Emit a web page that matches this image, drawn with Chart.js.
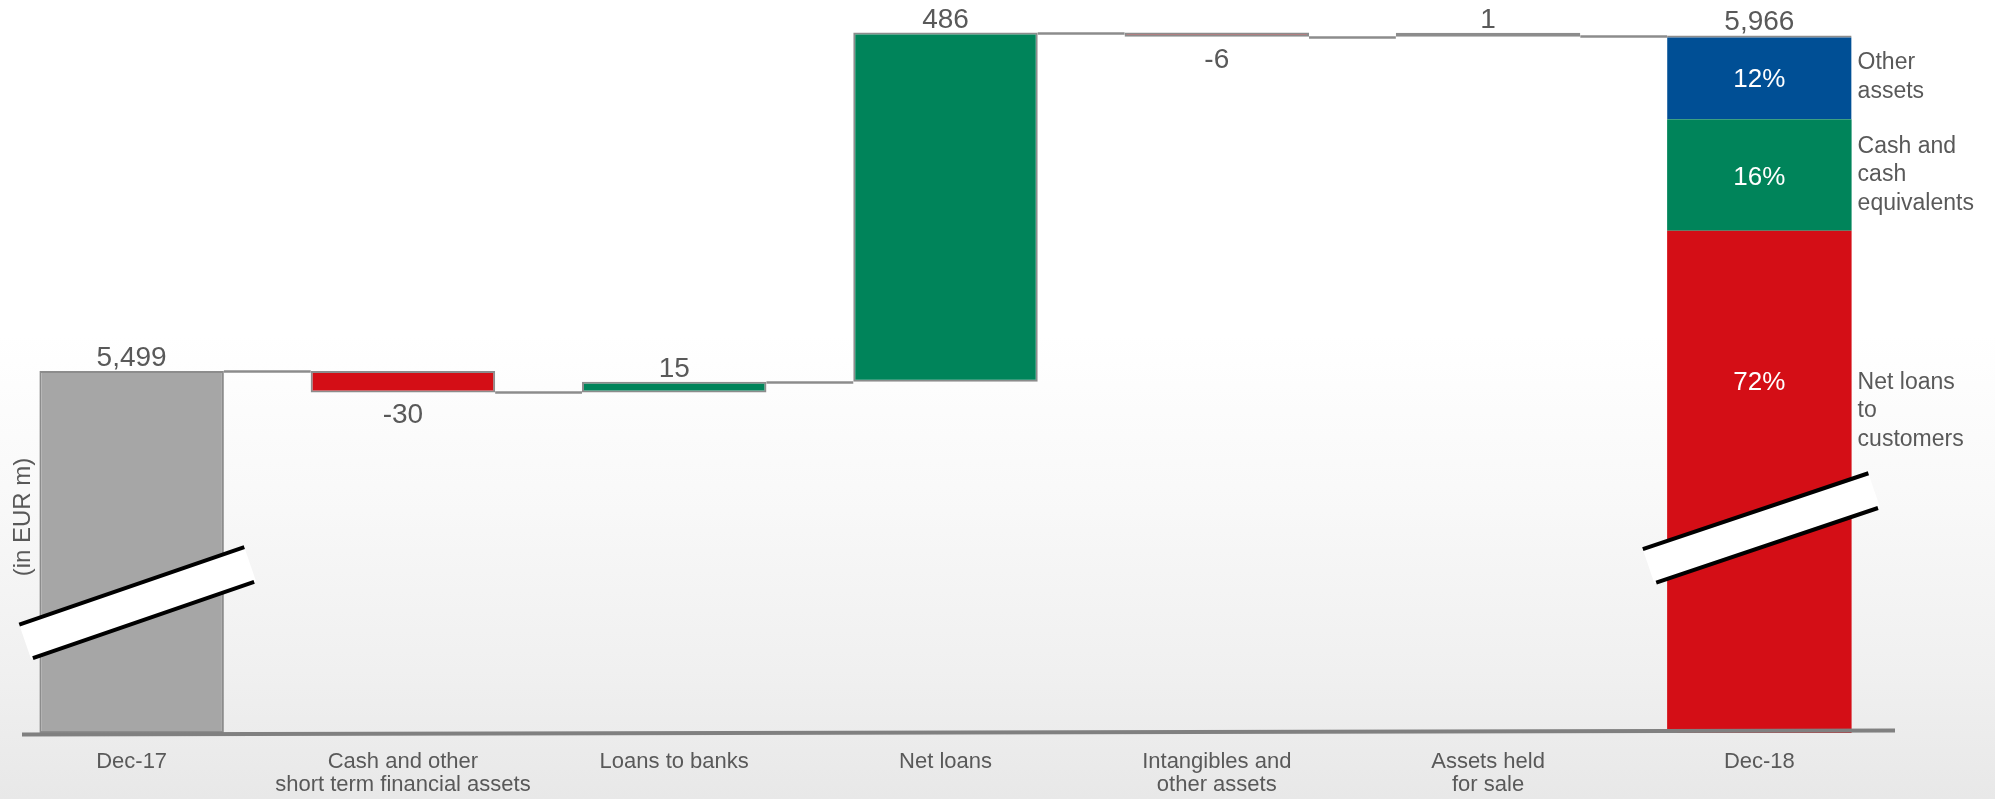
<!DOCTYPE html>
<html>
<head>
<meta charset="utf-8">
<title>Total assets bridge</title>
<script src="https://cdn.jsdelivr.net/npm/chart.js@4/dist/chart.umd.min.js"></script>
<style>
  html, body { margin: 0; padding: 0; }
  body {
    width: 1995px; height: 799px; overflow: hidden; position: relative;
    background: linear-gradient(180deg, #ffffff 0%, #ffffff 42%, #f8f8f8 64%, #f0f0f0 84%, #e8e8e8 100%);
  }
  canvas { display: block; position: absolute; left: -4px; top: 0; }
</style>
</head>
<body>
<canvas id="chart" width="1999" height="799"></canvas>
<script>
// Category labels (multi-line where the label wraps)
const categories = [
  ['Dec-17'],
  ['Cash and other', 'short term financial assets'],
  ['Loans to banks'],
  ['Net loans'],
  ['Intangibles and', 'other assets'],
  ['Assets held', 'for sale'],
  ['Dec-18']
];

// Opening balance, movements and closing balance (EUR m)
const openingTotal = 5499;
const movements = [-30, 15, 486, -6, 1];
const closingTotal = 5966;

// Composition of the closing balance (%)
const closingShares = [72, 16, 12];
const closingShareNames = [
  ['Net loans', 'to', 'customers'],
  ['Cash and', 'cash', 'equivalents'],
  ['Other', 'assets']
];

// Broken value axis: visible window of the scale
const axisFloor = 4995;
const axisCeiling = 6000;

const TEXT = '#595959';
const EDGE = '#8c8c8c';
const GREY = '#a6a6a6';
const RED = '#d40e16';
const GREEN = '#00845a';
const BLUE = '#004f95';
const FONT = "'Liberation Sans', Arial, sans-serif";

// Floating bars of the bridge: opening total, then one bar per movement
const bridge = [[axisFloor, openingTotal]];
const bridgeColors = [GREY];
let running = openingTotal;
movements.forEach(m => {
  bridge.push([running, running + m]);
  bridgeColors.push(m < 0 ? RED : GREEN);
  running += m;
});
bridge.push(null);
bridgeColors.push(GREY);

// Closing bar split into its components, stacked from the axis floor
const closingSpan = closingTotal - axisFloor;
let acc = axisFloor;
const closingSegments = closingShares.map(s => {
  const seg = [acc, acc + closingSpan * s / 100];
  acc = seg[1];
  return seg;
});
const segmentColors = [RED, GREEN, BLUE];

const barStyle = { grouped: false, barPercentage: 0.68, categoryPercentage: 1, borderSkipped: false };

const datasets = [
  Object.assign({
    label: 'Bridge',
    data: bridge,
    backgroundColor: bridgeColors,
    borderColor: EDGE,
    borderWidth: 2,
    minBarLength: 4
  }, barStyle)
].concat(closingSegments.map((seg, i) => Object.assign({
  label: closingShareNames[i].join(' '),
  data: categories.map((_, j) => (j === categories.length - 1 ? seg : null)),
  backgroundColor: segmentColors[i],
  borderColor: EDGE,
  borderWidth: i === closingSegments.length - 1 ? { top: 2, left: 0, right: 0, bottom: 0 } : 0
}, barStyle)));

const fmt = v => v.toLocaleString('en-US');

function barBox(chart, index) {
  const last = categories.length - 1;
  if (index === last) {
    const lo = chart.getDatasetMeta(1).data[index];
    const hi = chart.getDatasetMeta(closingSegments.length).data[index];
    return { x: lo.x, w: lo.width, top: Math.min(hi.y, hi.base), bottom: Math.max(lo.y, lo.base) };
  }
  const el = chart.getDatasetMeta(0).data[index];
  return { x: el.x, w: el.width, top: Math.min(el.y, el.base), bottom: Math.max(el.y, el.base) };
}

// Connectors between consecutive bars, plus the tilted base line
const connectorPlugin = {
  id: 'connectors',
  beforeDatasetsDraw(chart) {
    const ctx = chart.ctx, y = chart.scales.y;
    ctx.save();
    ctx.strokeStyle = EDGE;
    ctx.lineWidth = 2.5;
    for (let i = 0; i < categories.length - 1; i++) {
      const a = barBox(chart, i), b = barBox(chart, i + 1);
      const level = bridge[i][1];
      const py = Math.round(y.getPixelForValue(level)) + 0.5;
      ctx.beginPath();
      ctx.moveTo(a.x + a.w / 2, py);
      ctx.lineTo(b.x - b.w / 2, py);
      ctx.stroke();
    }
    ctx.restore();
  },
  afterDatasetsDraw(chart) {
    const ctx = chart.ctx, area = chart.chartArea;
    ctx.save();
    ctx.strokeStyle = '#808080';
    ctx.lineWidth = 4;
    ctx.beginPath();
    ctx.moveTo(area.left + 26, area.bottom + 1.5);
    ctx.lineTo(area.right, area.bottom - 2.5);
    ctx.stroke();
    ctx.restore();
  }
};

// Axis-break marks drawn across the two totals
const breakPlugin = {
  id: 'axisBreaks',
  afterDatasetsDraw(chart, args, opts) {
    const ctx = chart.ctx, y = chart.scales.y;
    opts.marks.forEach(m => {
      const box = barBox(chart, m.index);
      const cx = box.x + m.dx, cy = y.getPixelForValue(m.value);
      const half = 119, gap = 36;
      ctx.save();
      ctx.translate(cx, cy);
      ctx.rotate(m.angle * Math.PI / 180);
      ctx.fillStyle = '#ffffff';
      ctx.fillRect(-half, -gap / 2, half * 2, gap);
      ctx.strokeStyle = '#000000';
      ctx.lineWidth = 4;
      ctx.beginPath();
      ctx.moveTo(-half, -gap / 2); ctx.lineTo(half, -gap / 2);
      ctx.moveTo(-half + 2, gap / 2); ctx.lineTo(half - 2, gap / 2);
      ctx.stroke();
      ctx.restore();
    });
  }
};

// Value labels, share labels, component names and unit caption
const labelPlugin = {
  id: 'valueLabels',
  afterDraw(chart, args, opts) {
    const ctx = chart.ctx, y = chart.scales.y;
    const last = categories.length - 1;
    ctx.save();
    ctx.fillStyle = TEXT;
    ctx.textAlign = 'center';
    ctx.font = `28px ${FONT}`;
    const values = [openingTotal].concat(movements, [closingTotal]);
    values.forEach((v, i) => {
      const box = barBox(chart, i);
      if (v < 0) {
        ctx.textBaseline = 'top';
        ctx.fillText(fmt(v), box.x, box.bottom + 9);
      } else {
        ctx.textBaseline = 'alphabetic';
        ctx.fillText(fmt(v), box.x, box.top - 5);
      }
    });

    // Shares inside the closing bar and names to its right
    const breakMark = opts.marks.find(m => m.index === last);
    const breakY = y.getPixelForValue(breakMark.value);
    closingSegments.forEach((seg, i) => {
      const el = chart.getDatasetMeta(i + 1).data[last];
      const top = Math.min(el.y, el.base), bottom = Math.max(el.y, el.base);
      const cy = (i === 0 ? (top + breakY) / 2 : (top + bottom) / 2) + 3;
      ctx.fillStyle = '#ffffff';
      ctx.font = `26px ${FONT}`;
      ctx.textAlign = 'center';
      ctx.textBaseline = 'middle';
      ctx.fillText(closingShares[i] + '%', el.x, cy);

      const lines = closingShareNames[i];
      const lh = 28.5;
      const firstY = i === 0 ? cy : cy - 3 - (lines.length - 1) * lh / 2;
      ctx.fillStyle = TEXT;
      ctx.font = `23px ${FONT}`;
      ctx.textAlign = 'left';
      lines.forEach((t, k) => ctx.fillText(t, el.x + el.width / 2 + 6, firstY + k * lh));
    });

    // Unit caption, rotated along the left edge
    const area = chart.chartArea;
    ctx.translate(area.left + 27, 517);
    ctx.rotate(-Math.PI / 2);
    ctx.fillStyle = TEXT;
    ctx.font = `24px ${FONT}`;
    ctx.textAlign = 'center';
    ctx.textBaseline = 'middle';
    ctx.fillText('(in EUR m)', 0, 0);
    ctx.restore();
  }
};

const breakMarks = [
  { index: 0, value: 5176, dx: 6, angle: -19 },
  { index: 6, value: 5280, dx: 2, angle: -18.6 }
];

new Chart(document.getElementById('chart'), {
  type: 'bar',
  data: { labels: categories, datasets },
  options: {
    responsive: false,
    animation: false,
    layout: { padding: { left: 0, right: 100, top: 11, bottom: 0 } },
    plugins: {
      legend: { display: false },
      tooltip: { enabled: false },
      axisBreaks: { marks: breakMarks },
      valueLabels: { marks: breakMarks }
    },
    scales: {
      x: {
        type: 'category',
        grid: { display: false, drawTicks: false },
        border: { display: false },
        ticks: {
          color: TEXT,
          font: { family: FONT, size: 22, lineHeight: 1.07 },
          padding: 17,
          maxRotation: 0,
          autoSkip: false
        },
        afterFit(scale) { scale.height = 66; }
      },
      y: {
        type: 'linear',
        display: false,
        min: axisFloor,
        max: axisCeiling
      }
    }
  },
  plugins: [connectorPlugin, breakPlugin, labelPlugin]
});
</script>
</body>
</html>
